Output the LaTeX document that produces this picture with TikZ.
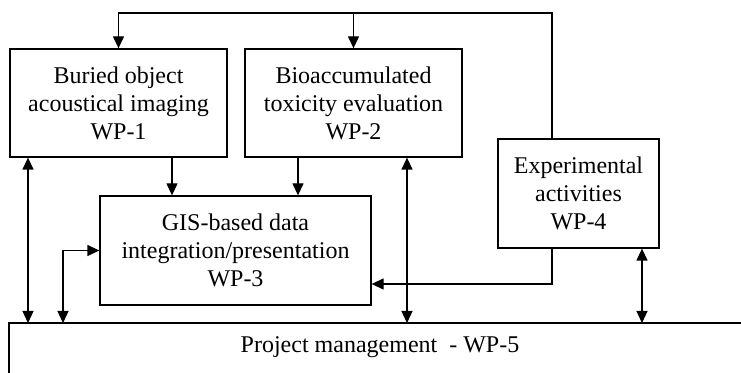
\documentclass[tikz,border=0pt]{standalone}
\usepackage{fontspec}
\setmainfont{Liberation Serif}
\usetikzlibrary{arrows.meta}
\tikzset{
  wp/.style = {draw, line width=0.65pt, align=center, inner sep=0pt},
  link/.style = {line width=0.65pt},
  tip/.style = {link, -{Triangle[length=6pt,width=5.5pt]}},
  both/.style = {link, {Triangle[length=6pt,width=5.5pt]}-{Triangle[length=6pt,width=5.5pt]}}
}
\begin{document}
\begin{tikzpicture}[x=0.5pt, y=-0.5pt, font=\fontsize{12}{14}\selectfont]
        \useasboundingbox (0,0) rectangle (741,373);
        \node [wp, minimum width=108.5pt, minimum height=54pt] (wp1) at (118.5,103) {Buried object\\acoustical imaging\\WP-1};
        \node [wp, minimum width=108.5pt, minimum height=54pt] (wp2) at (353.5,103) {Bioaccumulated\\toxicity evaluation\\WP-2};
        \node [wp, minimum width=135.5pt, minimum height=54.5pt] (wp3) at (235.5,250.5) {GIS-based data\\integration/presentation\\WP-3};
        \node [wp, minimum width=80.5pt, minimum height=54.5pt] (wp4) at (578.5,193.5) {Experimental\\activities\\WP-4};
        \node (wp5) at (380,347) {Project management \ - WP-5};
        % project management frame
        \coordinate (pmleft) at (9,323);
        \coordinate (pmright) at (741,323);
        \coordinate (pmfoot) at (9,373);
        \draw [link] (pmright) -- (pmleft) -- (pmfoot);
        % bus over the top
        \coordinate (bus) at (552,13);
        \draw [tip] (wp4.north -| bus) -- (bus) -| (wp1.north);
        \draw [tip] (wp2.north |- bus) -- (wp2.north);
        % into WP-3
        \coordinate (c1) at (172,0);
        \coordinate (c2) at (298,0);
        \draw [tip] (wp1.south -| c1) -- (wp3.north -| c1);
        \draw [tip] (wp2.south -| c2) -- (wp3.north -| c2);
        \coordinate (c3) at (552,284);
        \draw [tip] (wp4.south -| c3) -- (c3) -- (wp3.east |- c3);
        % links to project management
        \coordinate (m1) at (28,323);
        \coordinate (m2) at (63,323);
        \coordinate (m3) at (407,323);
        \coordinate (m4) at (642,323);
        \draw [both] (wp1.south -| m1) -- (m1);
        \draw [both] (m2) |- (wp3.west);
        \draw [both] (wp2.south -| m3) -- (m3);
        \draw [both] (wp4.south -| m4) -- (m4);
\end{tikzpicture}
\end{document}
